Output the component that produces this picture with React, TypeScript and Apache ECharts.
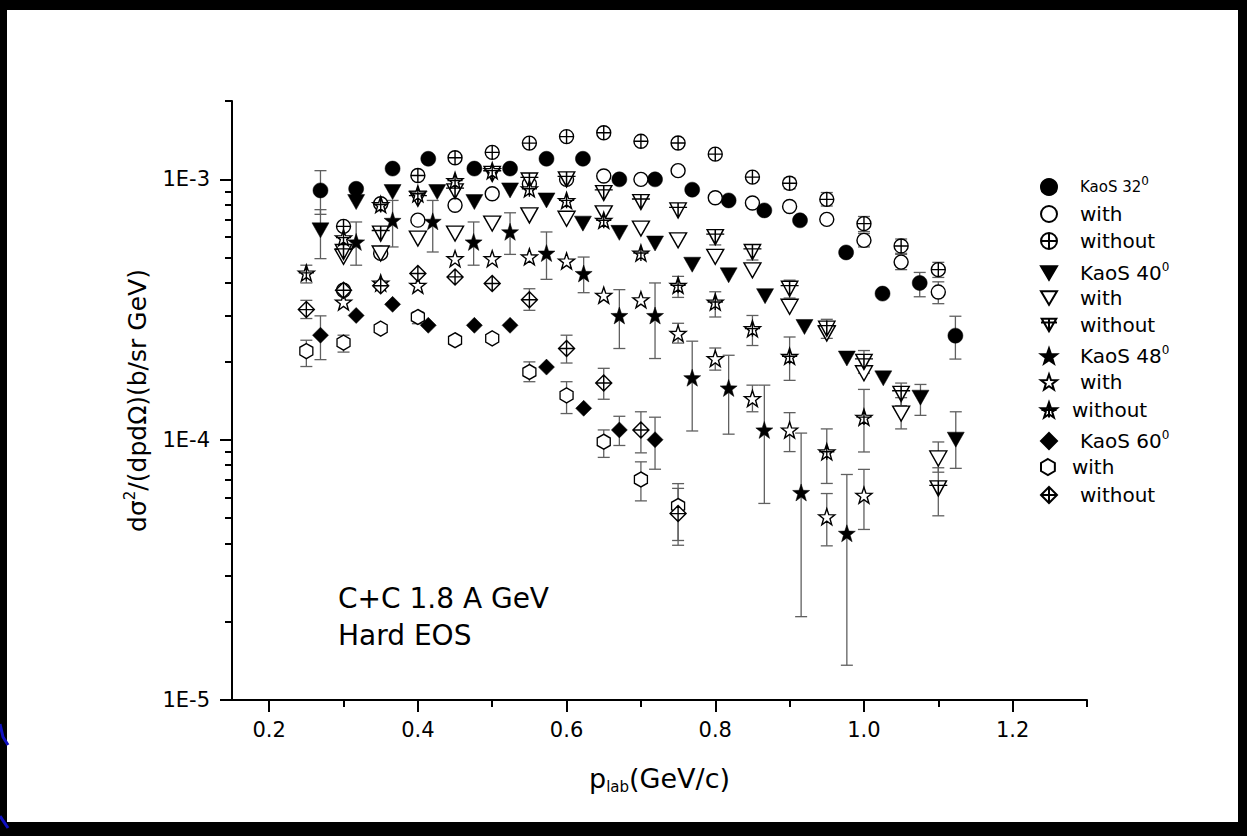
import React, { useEffect, useRef } from 'react';
import * as echarts from 'echarts';

const FONT = 'DejaVu Sans';

// ---------- axis ticks ----------
const xMajorTicks = [0.2, 0.4, 0.6, 0.8, 1.0, 1.2];
const xMinorTicks = [0.3, 0.5, 0.7, 0.9, 1.1, 1.3];
const yMajorTicks = [1e-5, 1e-4, 1e-3];
const yMinorTicks = [2e-5, 3e-5, 4e-5, 5e-5, 6e-5, 7e-5, 8e-5, 9e-5, 2e-4, 3e-4, 4e-4, 5e-4, 6e-4, 7e-4, 8e-4, 9e-4, 2e-3];

// ---------- data ----------
const kaos32X = [0.269, 0.317, 0.366, 0.414, 0.476, 0.524, 0.573, 0.622, 0.671, 0.719, 0.769, 0.818, 0.866, 0.914, 0.976, 1.025, 1.075, 1.123];
const kaos32Y = [9.07e-4, 9.2e-4, 1.1e-3, 1.2e-3, 1.1e-3, 1.1e-3, 1.2e-3, 1.2e-3, 1.0e-3, 1.0e-3, 9.13e-4, 8.3e-4, 7.6e-4, 6.96e-4, 5.24e-4, 3.64e-4, 4.0e-4, 2.51e-4];
const kaos32Err = [[0.269, 7.34e-4, 1.08e-3], [1.075, 3.54e-4, 4.39e-4], [1.123, 2.04e-4, 2.98e-4]];

const with32X = [0.30, 0.35, 0.40, 0.45, 0.50, 0.55, 0.60, 0.65, 0.70, 0.75, 0.80, 0.85, 0.90, 0.95, 1.00, 1.05, 1.10];
const with32Y = [3.75e-4, 5.2e-4, 6.97e-4, 7.95e-4, 8.81e-4, 9.6e-4, 1.0e-3, 1.03e-3, 1.0e-3, 1.08e-3, 8.5e-4, 8.11e-4, 7.87e-4, 7.02e-4, 5.83e-4, 4.81e-4, 3.69e-4];
const with32Err = [[1.0, 5.5e-4, 6.2e-4], [1.05, 4.5e-4, 5.15e-4], [1.1, 3.33e-4, 4.04e-4]];

const without32X = [0.30, 0.35, 0.40, 0.45, 0.50, 0.55, 0.60, 0.65, 0.70, 0.75, 0.80, 0.85, 0.90, 0.95, 1.00, 1.05, 1.10];
const without32Y = [6.6e-4, 8.06e-4, 1.035e-3, 1.21e-3, 1.27e-3, 1.378e-3, 1.46e-3, 1.51e-3, 1.4e-3, 1.38e-3, 1.25e-3, 1.02e-3, 9.66e-4, 8.38e-4, 6.76e-4, 5.55e-4, 4.5e-4];
const without32Err = [[0.9, 9.2e-4, 1.01e-3], [0.95, 7.9e-4, 8.9e-4], [1.0, 6.3e-4, 7.2e-4], [1.05, 5.2e-4, 5.9e-4], [1.1, 4.2e-4, 4.8e-4]];

const kaos40X = [0.269, 0.317, 0.366, 0.426, 0.476, 0.524, 0.573, 0.622, 0.671, 0.719, 0.769, 0.818, 0.867, 0.92, 0.977, 1.026, 1.076, 1.1235];
const kaos40Y = [6.37e-4, 8.18e-4, 8.94e-4, 8.94e-4, 8.18e-4, 9.07e-4, 8.3e-4, 6.76e-4, 6.23e-4, 5.67e-4, 4.7e-4, 4.28e-4, 3.56e-4, 2.71e-4, 2.05e-4, 1.72e-4, 1.45e-4, 1.0e-4];
const kaos40Err = [[0.269, 4.96e-4, 7.65e-4], [1.076, 1.24e-4, 1.63e-4], [1.1235, 7.76e-5, 1.28e-4]];

const with40X = [0.30, 0.35, 0.40, 0.45, 0.50, 0.55, 0.60, 0.65, 0.70, 0.75, 0.80, 0.85, 0.90, 0.95, 1.00, 1.05, 1.10];
const with40Y = [5.04e-4, 5.19e-4, 5.92e-4, 6.19e-4, 6.76e-4, 7.27e-4, 7.06e-4, 7.4e-4, 6.47e-4, 5.83e-4, 5.04e-4, 4.47e-4, 3.24e-4, 2.56e-4, 1.8e-4, 1.26e-4, 8.47e-5];
const with40Err = [[1.05, 1.1e-4, 1.45e-4], [1.1, 7.5e-5, 9.8e-5]];

const without40X = [0.30, 0.35, 0.40, 0.45, 0.50, 0.55, 0.60, 0.65, 0.70, 0.75, 0.80, 0.85, 0.90, 0.95, 1.00, 1.05, 1.10];
const without40Y = [5.26e-4, 6.19e-4, 8.43e-4, 9.0e-4, 1.05e-3, 9.9e-4, 1.0e-3, 8.86e-4, 8.18e-4, 7.6e-4, 6.0e-4, 5.26e-4, 3.8e-4, 2.67e-4, 1.99e-4, 1.5e-4, 6.5e-5];
const without40Err = [[0.8, 5.6e-4, 6.4e-4], [0.85, 4.9e-4, 5.6e-4], [0.9, 3.5e-4, 4.1e-4], [0.95, 2.45e-4, 2.9e-4], [1.0, 1.8e-4, 2.2e-4], [1.05, 1.35e-4, 1.65e-4], [1.1, 5.1e-5, 7.8e-5]];

const kaos48X = [0.317, 0.366, 0.42, 0.475, 0.524, 0.573, 0.623, 0.671, 0.719, 0.769, 0.818, 0.866, 0.9155, 0.977];
const kaos48Y = [5.75e-4, 6.96e-4, 6.9e-4, 5.75e-4, 6.29e-4, 5.21e-4, 4.35e-4, 3.0e-4, 3.0e-4, 1.73e-4, 1.58e-4, 1.09e-4, 6.27e-5, 4.37e-5];
const kaos48Err = [[0.317, 4.68e-4, 6.86e-4], [0.366, 5.5e-4, 8.3e-4], [0.42, 5.26e-4, 8.3e-4], [0.475, 4.68e-4, 6.86e-4], [0.524, 5.15e-4, 7.44e-4], [0.573, 4.13e-4, 6.28e-4], [0.623, 3.67e-4, 5.03e-4], [0.671, 2.24e-4, 3.77e-4], [0.719, 2.05e-4, 4.0e-4], [0.769, 1.08e-4, 2.39e-4], [0.818, 1.05e-4, 2.11e-4], [0.866, 5.69e-5, 1.62e-4], [0.9155, 2.09e-5, 1.06e-4], [0.977, 1.36e-5, 7.35e-5]];

const with48X = [0.30, 0.35, 0.40, 0.45, 0.50, 0.55, 0.60, 0.65, 0.70, 0.75, 0.80, 0.85, 0.90, 0.95, 1.00];
const with48Y = [3.38e-4, 4.0e-4, 3.92e-4, 4.96e-4, 4.96e-4, 5.04e-4, 4.86e-4, 3.59e-4, 3.45e-4, 2.56e-4, 2.05e-4, 1.44e-4, 1.09e-4, 5.06e-5, 6.12e-5];
const with48Err = [[0.75, 2.35e-4, 2.8e-4], [0.8, 1.85e-4, 2.25e-4], [0.85, 1.28e-4, 1.62e-4], [0.9, 9.0e-5, 1.27e-4], [0.95, 3.91e-5, 6.21e-5], [1.0, 4.52e-5, 7.69e-5]];

const without48X = [0.25, 0.30, 0.35, 0.40, 0.45, 0.50, 0.55, 0.60, 0.65, 0.70, 0.75, 0.80, 0.85, 0.90, 0.95, 1.00];
const without48Y = [4.37e-4, 5.97e-4, 8.0e-4, 8.8e-4, 9.9e-4, 1.08e-3, 9.2e-4, 8.3e-4, 6.96e-4, 5.21e-4, 3.92e-4, 3.38e-4, 2.67e-4, 2.09e-4, 8.98e-5, 1.22e-4];
const without48Err = [[0.25, 4.0e-4, 4.68e-4], [0.75, 3.52e-4, 4.24e-4], [0.8, 2.96e-4, 3.7e-4], [0.85, 2.3e-4, 3.0e-4], [0.9, 1.69e-4, 2.48e-4], [0.95, 6.79e-5, 1.1e-4], [1.0, 8.97e-5, 1.56e-4]];

const kaos60X = [0.269, 0.317, 0.366, 0.414, 0.476, 0.524, 0.573, 0.623, 0.671, 0.719];
const kaos60Y = [2.52e-4, 3.0e-4, 3.31e-4, 2.75e-4, 2.75e-4, 2.75e-4, 1.9e-4, 1.32e-4, 1.09e-4, 1.0e-4];
const kaos60Err = [[0.269, 2.03e-4, 2.99e-4], [0.671, 9.5e-5, 1.23e-4], [0.719, 7.7e-5, 1.22e-4]];

const with60X = [0.25, 0.30, 0.35, 0.40, 0.45, 0.50, 0.55, 0.60, 0.65, 0.70, 0.75];
const with60Y = [2.19e-4, 2.36e-4, 2.67e-4, 2.96e-4, 2.41e-4, 2.45e-4, 1.82e-4, 1.48e-4, 9.82e-5, 7.03e-5, 5.56e-5];
const with60Err = [[0.25, 1.91e-4, 2.41e-4], [0.3, 2.17e-4, 2.52e-4], [0.4, 2.79e-4, 3.09e-4], [0.55, 1.67e-4, 1.99e-4], [0.6, 1.26e-4, 1.67e-4], [0.65, 8.55e-5, 1.09e-4], [0.7, 5.82e-5, 8.22e-5], [0.75, 3.93e-5, 6.78e-5]];

const without60X = [0.25, 0.30, 0.35, 0.40, 0.45, 0.50, 0.55, 0.60, 0.65, 0.70, 0.75];
const without60Y = [3.16e-4, 3.75e-4, 3.9e-4, 4.35e-4, 4.22e-4, 3.98e-4, 3.45e-4, 2.24e-4, 1.65e-4, 1.09e-4, 5.2e-5];
const without60Err = [[0.25, 2.92e-4, 3.43e-4], [0.55, 3.14e-4, 3.8e-4], [0.6, 1.97e-4, 2.52e-4], [0.65, 1.43e-4, 1.88e-4], [0.7, 8.9e-5, 1.28e-4], [0.75, 4.1e-5, 6.5e-5]];

// ---------- symbols ----------
const SYM_CIRCLE_PLUS = 'path://M1 10 A9 9 0 1 0 19 10 A9 9 0 1 0 1 10 Z M10 1 L10 19 M1 10 L19 10';
const SYM_CIRCLE = 'path://M1 10 A9 9 0 1 0 19 10 A9 9 0 1 0 1 10 Z';
const SYM_TRI = 'path://M0 0 L20 0 L10 17 Z';
const SYM_TRI_PLUS = 'path://M0 0 L20 0 L10 17 Z M10 0 L10 17 M-1 5 L21 5';
const SYM_STAR = 'path://M10 0 L12.35 6.76 L19.51 6.91 L13.8 11.24 L15.88 18.09 L10 14 L4.12 18.09 L6.2 11.24 L0.49 6.91 L7.65 6.76 Z';
const SYM_STAR_PLUS = SYM_STAR + ' M10 0 L10 18 M1 9 L19 9';
const SYM_DIAMOND = 'path://M10 0 L20 10 L10 20 L0 10 Z';
const SYM_DIAMOND_PLUS = 'path://M10 0 L20 10 L10 20 L0 10 Z M10 0 L10 20 M0 10 L20 10';
const SYM_HEX = 'path://M10 0 L18.66 5 L18.66 15 L10 20 L1.34 15 L1.34 5 Z';

type Spec = { name: string; x: number[]; y: number[]; err: number[][]; symbol: string; size: number | number[]; filled: boolean };

const SPECS: Spec[] = [
  { name: 'KaoS 32', x: kaos32X, y: kaos32Y, err: kaos32Err, symbol: 'circle', size: 15, filled: true },
  { name: 'with 32', x: with32X, y: with32Y, err: with32Err, symbol: SYM_CIRCLE, size: 14, filled: false },
  { name: 'without 32', x: without32X, y: without32Y, err: without32Err, symbol: SYM_CIRCLE_PLUS, size: 14, filled: false },
  { name: 'KaoS 40', x: kaos40X, y: kaos40Y, err: kaos40Err, symbol: SYM_TRI, size: [17, 15], filled: true },
  { name: 'with 40', x: with40X, y: with40Y, err: with40Err, symbol: SYM_TRI, size: [17, 15], filled: false },
  { name: 'without 40', x: without40X, y: without40Y, err: without40Err, symbol: SYM_TRI_PLUS, size: [18, 15], filled: false },
  { name: 'KaoS 48', x: kaos48X, y: kaos48Y, err: kaos48Err, symbol: SYM_STAR, size: 17, filled: true },
  { name: 'with 48', x: with48X, y: with48Y, err: with48Err, symbol: SYM_STAR, size: 16, filled: false },
  { name: 'without 48', x: without48X, y: without48Y, err: without48Err, symbol: SYM_STAR_PLUS, size: 16, filled: false },
  { name: 'KaoS 60', x: kaos60X, y: kaos60Y, err: kaos60Err, symbol: SYM_DIAMOND, size: 16, filled: true },
  { name: 'with 60', x: with60X, y: with60Y, err: with60Err, symbol: SYM_HEX, size: [13, 15], filled: false },
  { name: 'without 60', x: without60X, y: without60Y, err: without60Err, symbol: SYM_DIAMOND_PLUS, size: 16, filled: false },
];

// legend layout (label text, superscript, row centre y, text start x)
const LEGEND_ROWS = [
  { name: 'KaoS 32', label: 'KaoS 32', sup: '0', cy: 182, tx: 1080, fs: 15 },
  { name: 'with 32', label: 'with', sup: '', cy: 211, tx: 1080, fs: 20 },
  { name: 'without 32', label: 'without', sup: '', cy: 238, tx: 1080, fs: 20 },
  { name: 'KaoS 40', label: 'KaoS 40', sup: '0', cy: 268, tx: 1080, fs: 20 },
  { name: 'with 40', label: 'with', sup: '', cy: 295, tx: 1080, fs: 20 },
  { name: 'without 40', label: 'without', sup: '', cy: 322, tx: 1080, fs: 20 },
  { name: 'KaoS 48', label: 'KaoS 48', sup: '0', cy: 351, tx: 1080, fs: 20 },
  { name: 'with 48', label: 'with', sup: '', cy: 379, tx: 1080, fs: 20 },
  { name: 'without 48', label: 'without', sup: '', cy: 407, tx: 1072, fs: 20 },
  { name: 'KaoS 60', label: 'KaoS 60', sup: '0', cy: 436, tx: 1080, fs: 20 },
  { name: 'with 60', label: 'with', sup: '', cy: 464, tx: 1073, fs: 20 },
  { name: 'without 60', label: 'without', sup: '', cy: 492, tx: 1080, fs: 20 },
];

function buildOption() {
  const scatter = SPECS.map((s, i) => ({
    type: 'scatter',
    name: s.name,
    data: s.x.map((x, j) => [x, s.y[j]]),
    symbol: s.symbol,
    symbolSize: s.size,
    z: 10 + i,
    itemStyle: s.filled
      ? { color: '#000', borderColor: '#000', borderWidth: 0.5, opacity: 1 }
      : { color: '#fff', borderColor: '#000', borderWidth: 1.4, opacity: 1 },
  }));

  const errors = SPECS.map((s) => ({
    type: 'custom',
    name: s.name + ' err',
    clip: false,
    z: 5,
    data: s.err,
    encode: { x: 0, y: [1, 2] },
    renderItem: (params: any, api: any) => {
      const x = api.value(0);
      const p1 = api.coord([x, api.value(1)]);
      const p2 = api.coord([x, api.value(2)]);
      const w = 6;
      const st = { stroke: '#606060', lineWidth: 1.3 };
      return {
        type: 'group',
        children: [
          { type: 'line', shape: { x1: p1[0], y1: p1[1], x2: p2[0], y2: p2[1] }, style: st },
          { type: 'line', shape: { x1: p1[0] - w, y1: p1[1], x2: p1[0] + w, y2: p1[1] }, style: st },
          { type: 'line', shape: { x1: p2[0] - w, y1: p2[1], x2: p2[0] + w, y2: p2[1] }, style: st },
        ],
      };
    },
  }));

  const legends = LEGEND_ROWS.map((r) => ({
    data: [r.name],
    left: 1035,
    top: r.cy - 12,
    orient: 'vertical',
    selectedMode: false,
    itemWidth: 16,
    itemHeight: 16,
    formatter: () => (r.sup ? `{t|${r.label}}{s|${r.sup}}` : `{t|${r.label}}`),
    textStyle: {
      rich: {
        t: { fontSize: r.fs, fontFamily: FONT, color: '#000', lineHeight: 24, padding: [0, 0, 0, r.tx - 1062] },
        s: { fontSize: 12, fontFamily: FONT, color: '#000', lineHeight: 12, verticalAlign: 'top' },
      },
    },
  }));

  return {
    animation: false,
    backgroundColor: '#fff',
    grid: { left: 232, right: 160, top: 101, bottom: 136, containLabel: false },
    legend: legends,
    xAxis: [
      {
        type: 'value', min: 0.15, max: 1.3, position: 'bottom',
        axisLine: { lineStyle: { color: '#000', width: 2 } },
        axisTick: { customValues: xMajorTicks, length: 12, lineStyle: { color: '#000', width: 2 } },
        axisLabel: { customValues: xMajorTicks, formatter: (v: number) => v.toFixed(1), color: '#000', fontSize: 21, fontFamily: FONT, margin: 19 },
        splitLine: { show: false },
        name: '{t|p}{b|lab}{t|(GeV/c)}',
        nameLocation: 'middle',
        nameGap: 62,
        nameTextStyle: {
          rich: {
            t: { fontSize: 27, fontFamily: FONT, color: '#000', lineHeight: 32 },
            b: { fontSize: 15, fontFamily: FONT, color: '#000', lineHeight: 15, verticalAlign: 'bottom' },
          },
        },
      },
      {
        type: 'value', min: 0.15, max: 1.3, position: 'bottom',
        axisLine: { show: false },
        axisTick: { customValues: xMinorTicks, length: 7, lineStyle: { color: '#000', width: 2 } },
        axisLabel: { show: false },
        splitLine: { show: false },
      },
    ],
    yAxis: [
      {
        type: 'log', logBase: 10, min: 1e-5, max: 2e-3, position: 'left',
        axisLine: { show: true, lineStyle: { color: '#000', width: 2 } },
        axisTick: { show: true, customValues: yMajorTicks, length: 12, lineStyle: { color: '#000', width: 2 } },
        axisLabel: { customValues: yMajorTicks, formatter: (v: number) => '1E' + Math.round(Math.log10(v)), color: '#000', fontSize: 21, fontFamily: FONT, margin: 22 },
        splitLine: { show: false },
        name: '{t|dσ}{s|2}{t|/(dpdΩ)(b/sr GeV)}',
        nameLocation: 'middle',
        nameGap: 80,
        nameRotate: 90,
        nameTextStyle: {
          rich: {
            t: { fontSize: 25, fontFamily: FONT, color: '#000', lineHeight: 30 },
            s: { fontSize: 15, fontFamily: FONT, color: '#000', lineHeight: 15, verticalAlign: 'top' },
          },
        },
      },
      {
        type: 'log', logBase: 10, min: 1e-5, max: 2e-3, position: 'left',
        axisLine: { show: false },
        axisTick: { show: true, customValues: yMinorTicks, length: 7, lineStyle: { color: '#000', width: 2 } },
        axisLabel: { show: false },
        splitLine: { show: false },
      },
    ],
    graphic: [
      { type: 'rect', shape: { x: 0, y: 0, width: 1247, height: 10 }, style: { fill: '#000' }, silent: true },
      { type: 'rect', shape: { x: 0, y: 0, width: 7, height: 836 }, style: { fill: '#000' }, silent: true },
      { type: 'rect', shape: { x: 1238, y: 0, width: 9, height: 836 }, style: { fill: '#000' }, silent: true },
      { type: 'rect', shape: { x: 0, y: 822, width: 1247, height: 14 }, style: { fill: '#000' }, silent: true },
      { type: 'polyline', shape: { points: [[0, 724], [3, 737], [8, 745]] }, style: { stroke: '#1010c0', lineWidth: 3, fill: null } },
      { type: 'polyline', shape: { points: [[0, 816], [8, 828]] }, style: { stroke: '#1010c0', lineWidth: 3, fill: null } },
      { type: 'text', x: 338, y: 598, style: { text: 'C+C 1.8 A GeV', fontSize: 28, fontFamily: FONT, fill: '#000', textVerticalAlign: 'middle' } },
      { type: 'text', x: 338, y: 635, style: { text: 'Hard EOS', fontSize: 28, fontFamily: FONT, fill: '#000', textVerticalAlign: 'middle' } },
    ],
    series: [...errors, ...scatter],
  };
}

export default function App() {
  const ref = useRef<HTMLDivElement>(null);
  useEffect(() => {
    const chart = echarts.init(ref.current!, null, { renderer: 'svg' });
    chart.setOption(buildOption() as any);
    return () => chart.dispose();
  }, []);
  return (
    <div
      ref={ref}
      style={{ position: 'absolute', left: 0, top: 0, width: 1247, height: 836, background: '#fff' }}
    />
  );
}
